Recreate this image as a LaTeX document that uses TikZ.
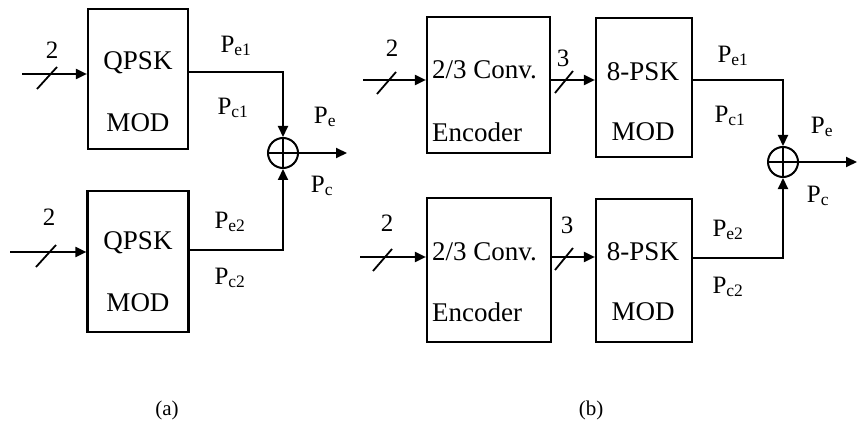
\documentclass[tikz,border=0pt]{standalone}
\usepackage{fontspec}
\setmainfont{Liberation Serif}
\usetikzlibrary{arrows.meta}
\begin{document}
\begin{tikzpicture}[x=1pt,y=-1pt,
  blk/.style={draw,line width=2.2pt,rectangle,inner sep=0pt},
  txt/.style={font=\fontsize{27}{30}\selectfont,inner sep=0pt},
  lbl/.style={font=\fontsize{25}{28}\selectfont,inner sep=0pt},
  wire/.style={line width=2pt},
  arr/.style={wire,-{Triangle[length=11pt,width=10pt]}},
  sumnode/.style={draw,circle,line width=2pt,minimum size=30pt,inner sep=0pt},
  bus/.style={line width=1.8pt}]
\useasboundingbox (0,0) rectangle (857,425);
% ===== (a) =====
\node[blk,minimum width=100pt,minimum height=140pt] (a1) at (138,79) {};
\node[blk,minimum width=101pt,minimum height=141pt] (a2) at (138,261.5) {};
\node[txt] (a1t) at (138,63) {QPSK};
\node[txt] (a1b) at (138,123) {MOD};
\node[txt] (a2t) at (138,243) {QPSK};
\node[txt] (a2b) at (138,303) {MOD};
\node[sumnode] (sa) at (283,153) {};
\draw[wire] (sa.north) -- (sa.south) (sa.west) -- (sa.east);
\coordinate (ain1) at (22,74);
\coordinate (ain2) at (10,252);
\draw[arr] (ain1) -- (ain1 -| a1.west);
\draw[arr] (ain2) -- (ain2 -| a2.west);
\draw[bus] (37,89) -- (57,67);
\draw[bus] (36,267) -- (56,245);
\node[lbl] (n1) at (52,50) {2};
\node[lbl] (n2) at (49,217) {2};
\coordinate (ao1) at (188,72);
\coordinate (ao2) at (188,250);
\draw[arr] (ao1) -| (sa.north);
\draw[arr] (ao2) -| (sa.south);
\coordinate (aout) at (347,153);
\draw[arr] (sa.east) -- (aout);
\node[lbl] (pa1) at (236,46) {P\textsubscript{e1}};
\node[lbl] (pa2) at (233,108) {P\textsubscript{c1}};
\node[lbl] (pa3) at (230,222) {P\textsubscript{e2}};
\node[lbl] (pa4) at (230,278) {P\textsubscript{c2}};
\node[lbl] (pa5) at (325,117) {P\textsubscript{e}};
\node[lbl] (pa6) at (322,186) {P\textsubscript{c}};
\node[font=\fontsize{21}{24}\selectfont,inner sep=0pt] (capa) at (167,410) {(a)};
% ===== (b) =====
\node[blk,minimum width=123pt,minimum height=136pt] (e1) at (488.5,85) {};
\node[blk,minimum width=96pt,minimum height=139pt] (m1) at (644,87.5) {};
\node[blk,minimum width=124pt,minimum height=144pt] (e2) at (489,270) {};
\node[blk,minimum width=96pt,minimum height=143pt] (m2) at (644,270.5) {};
\node[txt,anchor=west] (e1t) at (432,70) {2/3 Conv.};
\node[txt,anchor=west] (e1b) at (432,132) {Encoder};
\node[txt] (m1t) at (643,72) {8-PSK};
\node[txt] (m1b) at (643,132) {MOD};
\node[txt,anchor=west] (e2t) at (432,252) {2/3 Conv.};
\node[txt,anchor=west] (e2b) at (432,312) {Encoder};
\node[txt] (m2t) at (643,252) {8-PSK};
\node[txt] (m2b) at (643,312) {MOD};
\node[sumnode] (sb) at (783,162) {};
\draw[wire] (sb.north) -- (sb.south) (sb.west) -- (sb.east);
\coordinate (bin1) at (363,80);
\coordinate (bin2) at (360,257);
\draw[arr] (bin1) -- (bin1 -| e1.west);
\draw[arr] (bin2) -- (bin2 -| e2.west);
\draw[arr] (bin1 -| e1.east) -- (bin1 -| m1.west);
\draw[arr] (bin2 -| e2.east) -- (bin2 -| m2.west);
\draw[bus] (377,94) -- (396,72);
\draw[bus] (373,271) -- (392,249);
\draw[bus] (555,93) -- (573,71);
\draw[bus] (555,270) -- (573,248);
\node[lbl] (b21) at (392,48) {2};
\node[lbl] (b22) at (387,223) {2};
\node[lbl] (b31) at (563,58) {3};
\node[lbl] (b32) at (567,225) {3};
\coordinate (bo1) at (692,80);
\coordinate (bo2) at (692,258);
\draw[arr] (bo1) -| (sb.north);
\draw[arr] (bo2) -| (sb.south);
\coordinate (bout) at (857,162);
\draw[arr] (sb.east) -- (bout);
\node[lbl] (pb1) at (733,56) {P\textsubscript{e1}};
\node[lbl] (pb2) at (730,116) {P\textsubscript{c1}};
\node[lbl] (pb3) at (728,230) {P\textsubscript{e2}};
\node[lbl] (pb4) at (728,287) {P\textsubscript{c2}};
\node[lbl] (pb5) at (822,127) {P\textsubscript{e}};
\node[lbl] (pb6) at (818,196) {P\textsubscript{c}};
\node[font=\fontsize{21}{24}\selectfont,inner sep=0pt] (capb) at (591,410) {(b)};
\end{tikzpicture}
\end{document}
